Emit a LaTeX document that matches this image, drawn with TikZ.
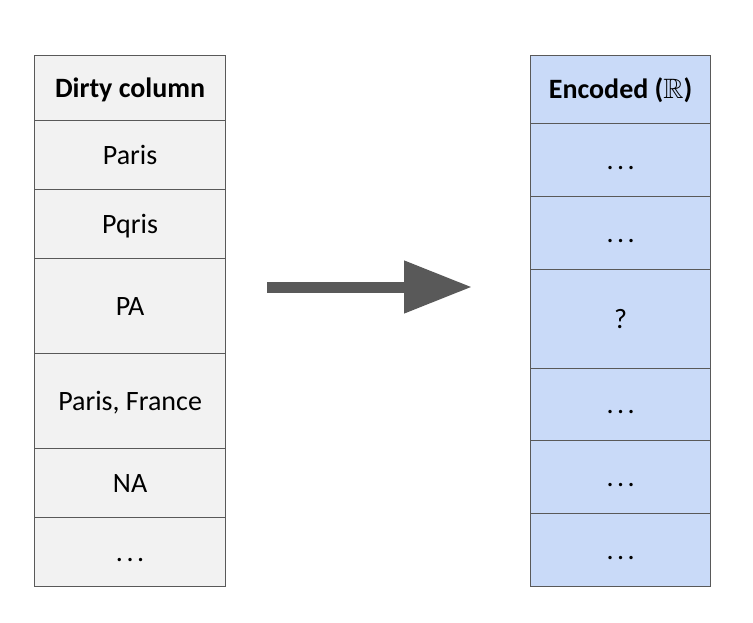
\documentclass[tikz,border=0pt]{standalone}
\usepackage{amssymb}
\usepackage{fontspec}
\setmainfont{Carlito}
\usetikzlibrary{arrows.meta}
\definecolor{cellgray}{HTML}{F2F2F2}
\definecolor{cellblue}{HTML}{C9DAF8}
\definecolor{edgegray}{HTML}{595959}
\definecolor{arrowgray}{HTML}{595959}
\newcommand\spdots{.\hspace{3.5pt}.\hspace{3.5pt}.}
\tikzset{
  cell/.style={draw=edgegray, line width=1.2pt, inner sep=0pt, anchor=north west,
    font=\fontsize{28}{32}\selectfont, text=black, text height=18pt, text depth=0pt},
  lcell/.style={cell, fill=cellgray, minimum width=191pt},
  rcell/.style={cell, fill=cellblue, minimum width=180pt},
  bigarrow/.style={line width=11pt, draw=arrowgray, -{Triangle[length=68pt, width=50pt, fill=arrowgray]}},
}
\begin{document}
\begin{tikzpicture}[x=1pt, y=-1pt]
\useasboundingbox (0,0) rectangle (753,623);
% left column
\node[lcell, minimum height=65pt, font=\fontsize{28}{32}\selectfont\bfseries] (l0) at (34,55) {Dirty column};
\node[lcell, minimum height=69pt] (l1) at (34,120) {Paris};
\node[lcell, minimum height=69pt] (l2) at (34,189) {Pqris};
\node[lcell, minimum height=95pt] (l3) at (34,258) {PA};
\node[lcell, minimum height=95pt] (l4) at (34,353) {Paris, France};
\node[lcell, minimum height=69pt] (l5) at (34,448) {NA};
\node[lcell, minimum height=69pt] (l6) at (34,517) {\spdots};
% right column
\node[rcell, minimum height=68pt, font=\fontsize{28}{32}\selectfont\bfseries] (r0) at (530,55) {Encoded ($\mathbb{R}$)};
\node[rcell, minimum height=73pt] (r1) at (530,123) {\spdots};
\node[rcell, minimum height=73pt] (r2) at (530,196) {\spdots};
\node[rcell, minimum height=99pt] (r3) at (530,269) {?};
\node[rcell, minimum height=72pt] (r4) at (530,368) {\spdots};
\node[rcell, minimum height=73pt] (r5) at (530,440) {\spdots};
\node[rcell, minimum height=73pt] (r6) at (530,513) {\spdots};
% arrow
\coordinate (as) at (267,287);
\coordinate (ae) at (472,287);
\draw[bigarrow] (as) -- (ae);
\end{tikzpicture}
\end{document}
